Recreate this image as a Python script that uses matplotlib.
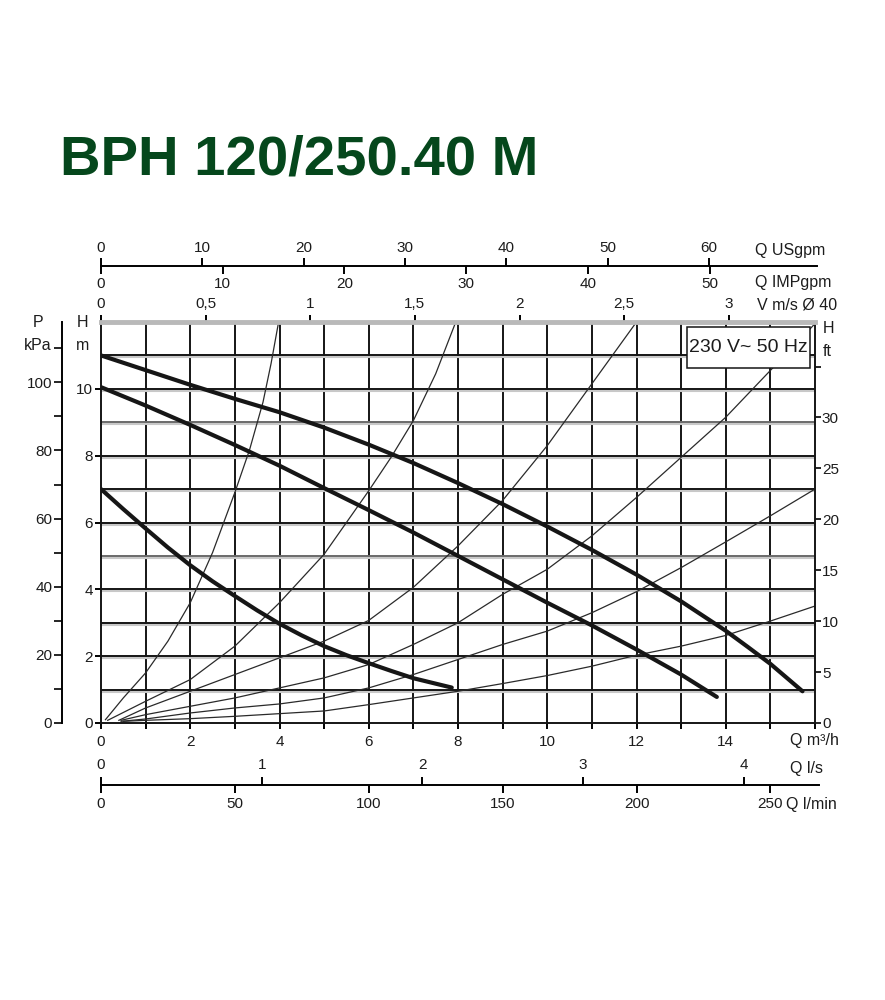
import matplotlib
matplotlib.use("Agg")
import numpy as np
import matplotlib.pyplot as plt
from matplotlib.patches import Rectangle

plt.rcParams['font.family'] = ['Liberation Sans', 'DejaVu Sans']

# --- curvas de la bomba (Q m3/h, H m) -----------------------------------------
Q_MAX = [0, 1, 2, 3, 4, 5, 6, 7, 8, 9, 10, 11, 12, 13, 14, 14.5, 15, 15.72]
H_MAX = [11.0, 10.56, 10.12, 9.7, 9.3, 8.84, 8.33, 7.78, 7.18, 6.55, 5.88, 5.18,
         4.44, 3.64, 2.76, 2.27, 1.77, 0.95]

Q_MID = [0, 1, 2, 3, 4, 5, 6, 7, 8, 9, 10, 11, 12, 13, 13.8]
H_MID = [10.05, 9.5, 8.92, 8.32, 7.7, 7.03, 6.37, 5.7, 5.0, 4.3, 3.6, 2.92,
         2.2, 1.45, 0.78]

Q_MIN = [0, 0.5, 1, 1.5, 2, 2.5, 3, 3.5, 4, 4.5, 5, 5.5, 6, 6.5, 7, 7.86]
H_MIN = [7.0, 6.4, 5.82, 5.25, 4.72, 4.24, 3.8, 3.37, 2.97, 2.62, 2.3, 2.03,
         1.79, 1.56, 1.34, 1.06]

# --- curvas de instalación (finas) --------------------------------------------
Q_S1 = [0.1, 0.5, 1, 1.5, 2, 2.5, 3, 3.33, 3.63, 3.81, 3.98]
H_S1 = [0.1, 0.75, 1.5, 2.45, 3.6, 5.1, 6.9, 8.18, 9.6, 10.75, 12.0]

Q_S2 = [0.15, 1, 2, 3, 4, 5, 6, 6.5, 7, 7.5, 7.95]
H_S2 = [0.08, 0.65, 1.3, 2.3, 3.6, 5.05, 6.95, 7.95, 9.05, 10.45, 12.0]

Q_S3 = [0.4, 1, 2, 3, 4, 5, 6, 7, 8, 9, 10, 11, 12]
H_S3 = [0.08, 0.45, 0.95, 1.45, 1.95, 2.45, 3.07, 4.06, 5.3, 6.66, 8.3, 10.15, 12.0]

Q_S4 = [0.45, 1, 2, 3, 4, 5, 6, 7, 8, 9, 10, 11, 12, 13, 14, 15, 16]
H_S4 = [0.08, 0.25, 0.5, 0.75, 1.05, 1.35, 1.75, 2.35, 3.0, 3.85, 4.6, 5.6,
        6.75, 7.95, 9.15, 10.55, 11.95]

Q_S5 = [0.45, 1, 2, 3, 4, 5, 6, 7, 8, 9, 10, 11, 12, 13, 14, 15, 16]
H_S5 = [0.05, 0.12, 0.3, 0.45, 0.57, 0.75, 1.05, 1.45, 1.9, 2.35, 2.75, 3.3,
        3.93, 4.65, 5.42, 6.2, 7.0]

Q_S6 = [0.5, 1, 2, 3, 4, 5, 6, 7, 8, 9, 10, 11, 12, 13, 14, 15, 16]
H_S6 = [0.05, 0.08, 0.13, 0.2, 0.28, 0.36, 0.55, 0.75, 0.95, 1.18, 1.42, 1.7,
        2.03, 2.3, 2.62, 3.05, 3.5]

# --- escalas auxiliares ---------------------------------------------------------
Q_TICKS = list(range(0, 17))
H_TICKS = [0, 2, 4, 6, 8, 10]
FT_TICKS = [0, 5, 10, 15, 20, 25, 30, 35]
KPA_TICKS = list(range(0, 120, 10))
V_TICKS = [0, 0.5, 1, 1.5, 2, 2.5, 3]
USGPM_TICKS = [0, 10, 20, 30, 40, 50, 60]
IMPGPM_TICKS = [0, 10, 20, 30, 40, 50]
LS_TICKS = [0, 1, 2, 3, 4]
LMIN_TICKS = [0, 50, 100, 150, 200, 250]

M3H_PER_USGPM = 0.2271
M3H_PER_IMPGPM = 0.2728
M3H_PER_MS = 4.69       # tubería Ø 40
M3H_PER_LS = 3.6
KPA_PER_M = 9.81
FT_PER_M = 3.281

TXT = '#1c1c1c'
FS = 11

W, Hpx = 885, 1000


def fx(px):
    return px / W


def fy(py):
    return 1 - py / Hpx


def comma(v):
    return f"{v:g}".replace('.', ',')


fig = plt.figure(figsize=(8.85, 10), dpi=100)

fig.text(fx(60), fy(175), "BPH 120/250.40 M", fontsize=40.5, fontweight='bold',
         color='#05471c', ha='left', va='baseline')

# --- eje principal --------------------------------------------------------------
ax = fig.add_axes([fx(101), fy(723), 714 / W, 401 / Hpx])
ax.set_xlim(0, 16)
ax.set_ylim(0, 12)

ax.vlines(range(1, 16), 0, 12, color='#151515', lw=1.4, zorder=1)
rows = np.arange(1, 12)
ax.hlines(rows - 0.06, 0, 16, color='#c8c8c8', lw=1.5, zorder=1)
row_col = ['#6a6a6a' if r in (5, 9) else '#151515' for r in rows]
ax.hlines(rows, 0, 16, colors=row_col, lw=1.4, zorder=1.1)

for q, h in [(Q_S1, H_S1), (Q_S2, H_S2), (Q_S3, H_S3),
             (Q_S4, H_S4), (Q_S5, H_S5), (Q_S6, H_S6)]:
    ax.plot(q, h, color='#2a2a2a', lw=0.9, zorder=2)

for q, h in [(Q_MAX, H_MAX), (Q_MID, H_MID), (Q_MIN, H_MIN)]:
    ax.plot(q, h, color='#161616', lw=3.0, solid_capstyle='round',
            solid_joinstyle='round', zorder=3)

for s in ['left', 'right', 'bottom']:
    ax.spines[s].set_linewidth(1.4)
    ax.spines[s].set_color('#151515')
ax.spines['top'].set_color('#b9b9b9')
ax.spines['top'].set_linewidth(3.5)

ax.set_xticks(Q_TICKS)
ax.set_xticklabels([str(v) if v % 2 == 0 and v < 16 else '' for v in Q_TICKS])
ax.tick_params(axis='x', direction='out', length=4, width=1.4, pad=5,
               labelsize=FS, labelcolor=TXT)
ax.set_yticks(H_TICKS)
ax.tick_params(axis='y', direction='out', length=4, width=1.4, pad=2,
               labelsize=FS, labelcolor=TXT)

# recuadro de alimentación
ax.add_patch(Rectangle((0.8207, 0.885), 0.1723, 0.1025, transform=ax.transAxes,
                       fc='white', ec='#151515', lw=1.1, zorder=5))
ax.text(0.907, 0.936, "230 V~ 50 Hz", transform=ax.transAxes, fontsize=14,
        color=TXT, ha='center', va='center', zorder=6)

# velocidad en la tubería (arriba)
ax_v = ax.secondary_xaxis('top', functions=(lambda q: q / M3H_PER_MS,
                                            lambda v: v * M3H_PER_MS))
ax_v.set_xticks(V_TICKS)
ax_v.set_xticklabels([comma(v) for v in V_TICKS])
ax_v.tick_params(direction='out', length=5, width=1.4, pad=3, labelsize=FS,
                 labelcolor=TXT)
ax_v.spines['top'].set_visible(False)

# H en ft (derecha)
ax_ft = ax.secondary_yaxis('right', functions=(lambda m: m * FT_PER_M,
                                               lambda f: f / FT_PER_M))
ax_ft.set_yticks(FT_TICKS)
ax_ft.set_yticklabels([str(v) if v < 35 else '' for v in FT_TICKS])
ax_ft.tick_params(direction='out', length=4, width=1.2, pad=1, labelsize=FS,
                  labelcolor=TXT)
ax_ft.spines['right'].set_visible(False)

# P en kPa (eje separado a la izquierda)
ax_p = ax.secondary_yaxis(-39 / 714, functions=(lambda m: m * KPA_PER_M,
                                               lambda p: p / KPA_PER_M))
ax_p.set_yticks(KPA_TICKS)
ax_p.set_yticklabels([str(v) if v % 20 == 0 and v <= 100 else '' for v in KPA_TICKS])
ax_p.tick_params(direction='out', length=6, width=1.2, pad=1, labelsize=FS,
                 labelcolor=TXT)
ax_p.spines['left'].set_linewidth(1.4)

# --- escalas de caudal arriba (USgpm / IMPgpm) ----------------------------------
ax_g = fig.add_axes([fx(101), fy(266), 716 / W, 1e-4])
ax_g.set_xlim(0, 16 * 716 / 714)
ax_g.set_xticks([])
ax_g.set_yticks([])
for s in ['left', 'right', 'top']:
    ax_g.spines[s].set_visible(False)
ax_g.spines['bottom'].set_linewidth(1.4)
ax_us = ax_g.secondary_xaxis('top', functions=(lambda q: q / M3H_PER_USGPM,
                                              lambda g: g * M3H_PER_USGPM))
ax_us.set_xticks(USGPM_TICKS)
ax_us.tick_params(direction='out', length=6, width=1.4, pad=2, labelsize=FS,
                  labelcolor=TXT)
ax_us.spines['top'].set_visible(False)
ax_imp = ax_g.secondary_xaxis('bottom', functions=(lambda q: q / M3H_PER_IMPGPM,
                                                  lambda g: g * M3H_PER_IMPGPM))
ax_imp.set_xticks(IMPGPM_TICKS)
ax_imp.tick_params(direction='out', length=6, width=1.4, pad=2, labelsize=FS,
                   labelcolor=TXT)
ax_imp.spines['bottom'].set_visible(False)

# --- escalas de caudal abajo (l/s / l/min) -------------------------------------
ax_l = fig.add_axes([fx(101), fy(785), 718 / W, 1e-4])
ax_l.set_xlim(0, 16 * 718 / 714)
ax_l.set_xticks([])
ax_l.set_yticks([])
for s in ['left', 'right', 'top']:
    ax_l.spines[s].set_visible(False)
ax_l.spines['bottom'].set_linewidth(1.4)
ax_ls = ax_l.secondary_xaxis('top', functions=(lambda q: q / M3H_PER_LS,
                                              lambda l: l * M3H_PER_LS))
ax_ls.set_xticks(LS_TICKS)
ax_ls.tick_params(direction='out', length=6, width=1.4, pad=3, labelsize=FS,
                  labelcolor=TXT)
ax_ls.spines['top'].set_visible(False)
ax_lm = ax_l.secondary_xaxis('bottom', functions=(lambda q: q / M3H_PER_LS * 60,
                                                 lambda l: l * M3H_PER_LS / 60))
ax_lm.set_xticks(LMIN_TICKS)
ax_lm.tick_params(direction='out', length=6, width=1.4, pad=3, labelsize=FS,
                  labelcolor=TXT)
ax_lm.spines['bottom'].set_visible(False)

# --- rótulos de unidades ---------------------------------------------------------
labels = [
    (755, 250, "Q USgpm", 'left'),
    (755, 283, "Q IMPgpm", 'left'),
    (757, 305, "V m/s Ø 40", 'left'),
    (38, 322, "P", 'center'),
    (38, 345, "kPa", 'center'),
    (83, 322, "H", 'center'),
    (83, 345, "m", 'center'),
    (823, 328, "H", 'left'),
    (823, 352, "ft", 'left'),
    (790, 741, "Q m³/h", 'left'),
    (790, 768, "Q l/s", 'left'),
    (786, 805, "Q l/min", 'left'),
]
for px, py, t, ha in labels:
    fig.text(fx(px), fy(py), t, fontsize=FS + 0.5, color=TXT, ha=ha, va='center')

fig.savefig("out.png", dpi=100, facecolor='white')
